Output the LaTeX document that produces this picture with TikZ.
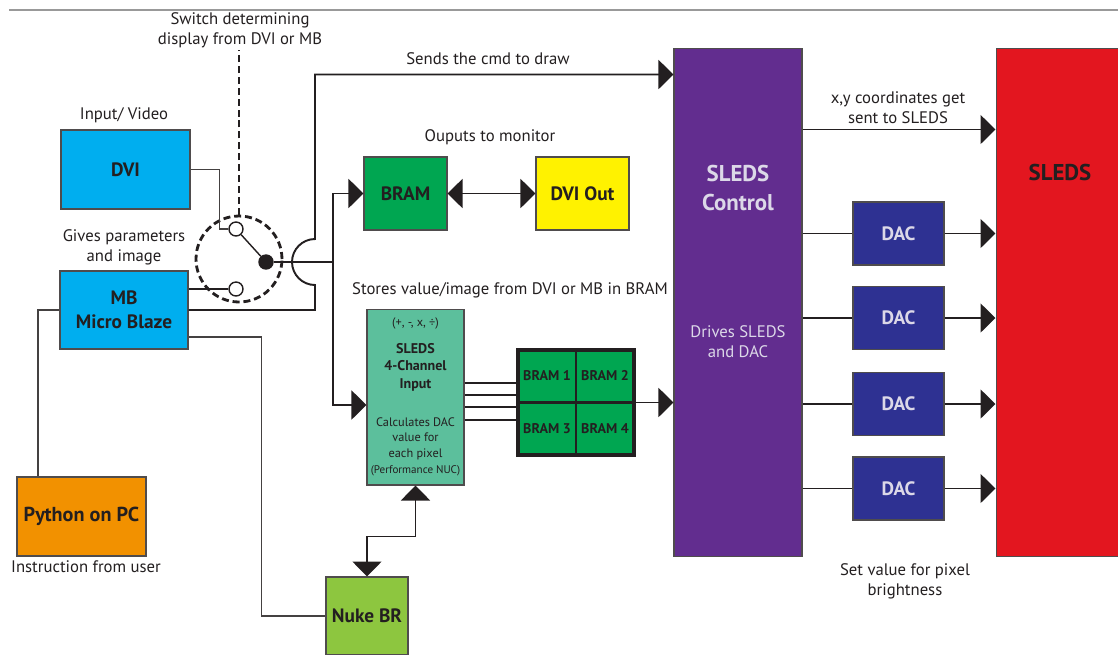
\documentclass[tikz,border=0pt]{standalone}
\usepackage{fontspec}
\setmainfont{PT Sans}
\usetikzlibrary{arrows.meta,calc}

\definecolor{ink}{HTML}{231F20}
\definecolor{dviblue}{HTML}{00AEEF}
\definecolor{bramgreen}{HTML}{00A651}
\definecolor{outyellow}{HTML}{FFF200}
\definecolor{chanteal}{HTML}{5CBF9C}
\definecolor{ctrlpurple}{HTML}{622D8F}
\definecolor{sledsred}{HTML}{E3161F}
\definecolor{dacblue}{HTML}{2E3192}
\definecolor{pyorange}{HTML}{F29100}
\definecolor{nukegreen}{HTML}{8DC63F}
\definecolor{paletext}{HTML}{DCD8E8}

\newcommand\chb[1]{{\fontsize{8}{9}\selectfont\bfseries #1}}

\begin{document}
\begin{tikzpicture}[
  x=0.02cm, y=-0.02cm,
  font=\fontsize{9.5}{11.5}\selectfont, text=ink,
  box/.style={draw=ink!80, line width=0.6pt, align=center, inner sep=1pt,
              font=\fontsize{11}{13.5}\selectfont\bfseries},
  lbl/.style={align=center, inner sep=1pt},
  wire/.style={draw=ink, line width=1.1pt},
  fine/.style={draw=ink!85, line width=0.6pt},
  arr/.style={wire, -{Triangle[length=0.3cm, width=0.58cm]}},
  arrs/.style={wire, {Triangle[length=0.3cm, width=0.58cm]}-{Triangle[length=0.3cm, width=0.58cm]}},
  contact/.style={circle, draw=ink, line width=0.8pt, fill=white, minimum size=0.28cm, inner sep=0pt},
  dashline/.style={draw=ink, line width=1.6pt, dash pattern=on 4pt off 2.2pt},
  cell/.style={draw=ink, line width=1.5pt, minimum width=1.16cm, minimum height=1.05cm,
               inner sep=0pt, font=\fontsize{8}{9}\selectfont\bfseries},
  dac/.style={box, fill=dacblue, text=paletext, minimum width=1.82cm, minimum height=1.26cm}
]
\useasboundingbox (0,0) rectangle (1118,654);
\draw[gray!80, line width=0.6pt] (9,10) -- (1118,10);

% sources
\node[box, fill=dviblue, minimum width=2.58cm, minimum height=1.58cm] (dvi) at (125.5,169.5) {DVI};
\node[box, fill=dviblue, minimum width=2.56cm, minimum height=1.56cm] (mb) at (124,310) {MB\\Micro Blaze};
\node[box, fill=pyorange, minimum width=2.58cm, minimum height=1.58cm, font=\fontsize{11.5}{13.5}\selectfont\bfseries] (py) at (81.5,516.5) {Python on PC};
\node[box, fill=nukegreen, minimum width=1.64cm, minimum height=1.56cm] (nuke) at (367,616) {Nuke BR};

% monitor path
\node[box, fill=bramgreen, minimum width=1.66cm, minimum height=1.46cm] (bram) at (405.5,193.5) {BRAM};
\node[box, fill=outyellow, minimum width=1.86cm, minimum height=1.46cm] (dviout) at (582.5,193.5) {DVI Out};

% 4-channel input and BRAM bank
\node[box, fill=chanteal, minimum width=1.94cm, minimum height=3.52cm, font=\fontsize{7}{9}\selectfont] (chin) at (415.5,397)
  {(+, -, x, ÷)\\[6pt]\chb{SLEDS}\\[1pt]\chb{4-Channel}\\[1pt]\chb{Input}\\[12.5pt]
   Calculates DAC\\value for\\each pixel\\{\fontsize{6.3}{7}\selectfont(Performance NUC)}};
\node[draw=ink, line width=2.2pt, fill=bramgreen, minimum width=2.32cm, minimum height=2.1cm] (grid) at (576,402.5) {};
\node[cell] (b1) at (547,376) {BRAM 1};
\node[cell] (b2) at (605,376) {BRAM 2};
\node[cell] (b3) at (547,429) {BRAM 3};
\node[cell] (b4) at (605,429) {BRAM 4};

% control and SLEDS
\node[box, fill=ctrlpurple, minimum width=2.56cm, minimum height=10.18cm] (ctrl) at (738,302.5) {};
\node[lbl, text=paletext, font=\fontsize{13}{16}\selectfont\bfseries] (ctrlname) at (738,188) {SLEDS\\Control};
\node[lbl, text=paletext] (ctrlnote) at (738,342) {Drives SLEDS\\and DAC};
\node[box, fill=sledsred, minimum width=2.48cm, minimum height=10.18cm] (sleds) at (1058,302.5) {};
\node[lbl, font=\fontsize{13}{16}\selectfont\bfseries] (sledsname) at (1060,172) {SLEDS};
\foreach \i/\y in {1/233.5,2/318,3/404,4/488.5}
  \node[dac] (dac\i) at (898.5,\y) {DAC};

% switch
\node[circle, dashline, minimum size=1.72cm] (sw) at (239,259) {};
\node[contact] (c1) at (236,229) {};
\node[contact] (c2) at (236,289) {};
\node[contact, fill=ink] (pivot) at (266,262) {};
\coordinate (jn) at (333,262);
\coordinate (hop) at (315,262);

% labels
\node[lbl] (swlbl) at (240,30) {Switch determining\\display from DVI or MB};
\node[lbl] (dvilbl) at (124,115) {Input/ Video};
\node[lbl] (mblbl) at (124,247) {Gives parameters\\and image};
\node[lbl] (cmdlbl) at (488,59) {Sends the cmd to draw};
\node[lbl] (outlbl) at (490,137) {Ouputs to monitor};
\node[lbl] (storelbl) at (510,290) {Stores value/image from DVI or MB in BRAM};
\node[lbl] (xylbl) at (898,108) {x,y coordinates get\\sent to SLEDS};
\node[lbl] (pixlbl) at (905,581) {Set value for pixel\\brightness};
\node[lbl] (pylbl) at (86,567) {Instruction from user};

% connections
\draw[dashline] (sw.north) -- (sw.north |- swlbl.south);
\draw[fine] (dvi.east) -- ++(29,0) |- (c1.west);
\draw[wire] (mb.east |- c2) -- (c2.west);
\draw[draw=ink, line width=0.8pt] (c1) -- (pivot);
\draw[wire] (pivot) -- (jn);
\draw[arr] (jn) |- (bram.west);
\draw[arr] (jn) |- ([yshift=-0.16cm]chin.west);
\draw[arr] (mb.east) -| ([yshift=-0.46cm]hop) arc[start angle=270, end angle=90, radius=0.46cm]
  |- ([yshift=-0.54cm]ctrl.north west);
\draw[arrs] (bram) -- (dviout);
\foreach \s in {0.39,0.15,-0.09,-0.35}
  \draw[wire] ([yshift=\s cm]grid.west -| chin.east) -- ([yshift=\s cm]grid.west);
\draw[arr] (grid) -- (ctrl.west |- grid);
\draw[arr] ([yshift=-1.64cm]ctrl.north east) -- ([yshift=-1.64cm]sleds.north west);
\foreach \i in {1,...,4} {
  \draw[wire] (ctrl.east |- dac\i) -- (dac\i);
  \draw[arr] (dac\i) -- (sleds.west |- dac\i);
}
\draw[fine] ([xshift=-0.87cm]py.north) |- (mb.west);
\draw[fine] ([yshift=-0.54cm]mb.east) -- ++(73,0) |- (nuke.west);
\draw[arrs] (nuke.north) -- ++(0,-40) -| (chin.south);
\end{tikzpicture}
\end{document}
